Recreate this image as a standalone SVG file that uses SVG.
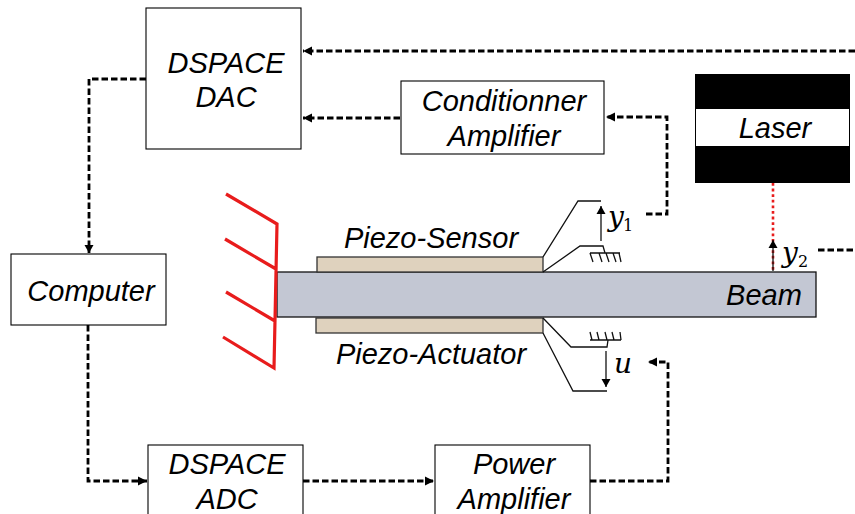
<svg xmlns="http://www.w3.org/2000/svg" width="855" height="514" viewBox="0 0 855 514">
<defs>
<marker id="a" markerUnits="userSpaceOnUse" markerWidth="10" markerHeight="10" refX="9" refY="5" orient="auto"><path d="M0,0.5 L9,5 L0,9.5Z" fill="#000"/></marker>
<marker id="b" markerUnits="userSpaceOnUse" markerWidth="8" markerHeight="10" refX="8" refY="5" orient="auto"><path d="M0,0.5 L8,5 L0,9.5Z" fill="#000"/></marker>
</defs>
<style>
.box{fill:#fff;stroke:#000;stroke-width:1.1}
.t{font-family:"Liberation Sans",Arial,sans-serif;font-style:italic;font-size:29px;fill:#000;text-anchor:middle}
.m{font-family:"DejaVu Serif","Liberation Serif",serif;font-style:italic;font-size:28px;fill:#000}
.s{font-family:"DejaVu Serif","Liberation Serif",serif;font-size:16px;fill:#000}
.c{fill:none;stroke:#000;stroke-width:2.8;stroke-dasharray:6.5 3}
.l{fill:none;stroke:#111;stroke-width:1.3}
.r{fill:none;stroke:#e81c1c;stroke-width:3.2}
.pz{fill:#dfd2be;stroke:#333;stroke-width:1.3}
</style>
<g id="connectors">
<path class="c" d="M855,51 H303" marker-end="url(#a)"/>
<path class="c" d="M146,79 H89 V253" marker-end="url(#b)"/>
<path class="c" d="M400,118 H303" marker-end="url(#a)"/>
<path class="c" d="M646,214 H667 V117 H606" marker-end="url(#a)"/>
<path class="c" d="M88,325 V481 H147" marker-end="url(#a)"/>
<path class="c" d="M303,481 H434" marker-end="url(#a)"/>
<path class="c" d="M590,481 H668 V362 H648" marker-end="url(#a)"/>
<path d="M818,250 H855" fill="none" stroke="#000" stroke-width="2.8" stroke-dasharray="6.5 3"/>
<path d="M773,183 V272" fill="none" stroke="#e81c1c" stroke-width="2.6" stroke-dasharray="2.8 2.8"/>
</g>
<g id="dspace-dac"><rect class="box" x="146" y="8" width="155" height="141"/><text class="t" x="226" y="73">DSPACE</text><text class="t" x="226" y="107">DAC</text></g>
<g id="conditionner"><rect class="box" x="401" y="81" width="203" height="73"/><text class="t" x="504" y="111">Conditionner</text><text class="t" x="504" y="146">Amplifier</text></g>
<g id="laser"><rect x="695" y="74" width="155" height="109" fill="#000"/><rect x="696" y="109" width="153" height="37" fill="#fff"/><text class="t" x="775" y="138">Laser</text></g>
<g id="computer"><rect class="box" x="11" y="254" width="155" height="71"/><text class="t" x="91" y="301">Computer</text></g>
<g id="dspace-adc"><rect class="box" x="148" y="445" width="155" height="75"/><text class="t" x="227" y="474">DSPACE</text><text class="t" x="227" y="509">ADC</text></g>
<g id="power-amplifier"><rect class="box" x="435" y="445" width="155" height="75"/><text class="t" x="514" y="474">Power</text><text class="t" x="514" y="509">Amplifier</text></g>
<g id="beam"><rect x="277" y="272" width="539" height="45" fill="#c3c7d3" stroke="#111" stroke-width="1.3"/><text class="t" x="764" y="305">Beam</text></g>
<g id="piezo-sensor"><rect class="pz" x="317" y="257" width="226" height="15"/><text class="t" x="431" y="248">Piezo-Sensor</text></g>
<g id="piezo-actuator"><rect class="pz" x="316" y="318" width="227" height="15"/><text class="t" x="431" y="364">Piezo-Actuator</text></g>
<g id="clamp">
<path class="r" d="M226,194 L277,224 L274,368 L223,337 M225,239 L276,269 M226,292 L275,321"/>
</g>
<g id="y1-sensor">
<path class="l" d="M543,257 L578,201 H601 M543,272 L580,246 H603 L605,253"/>
<path class="l" d="M590,253 H620 M590,253 L593,262 M599,253 L602,262 M606,253 L609,262 M613,253 L616,262 M619,253 L621,262"/>
<path class="l" d="M601,241 V206" marker-end="url(#b)"/>
<text class="m" x="608" y="226">y</text><text class="s" x="623" y="231">1</text>
</g>
<g id="u-actuator">
<path class="l" d="M543,318 L571,347 H607 L608,340"/>
<path class="l" d="M543,333 L573,391 H607"/>
<path class="l" d="M590,340 H621 M590,332 L592,340 M597,332 L599,340 M605,332 L607,340 M612,332 L614,340 M620,332 L621,340"/>
<path class="l" d="M606,351 V387" marker-end="url(#b)"/>
<text class="m" x="614" y="373">u</text>
</g>
<g id="y2-sensor">
<path class="l" d="M773,271 V240" marker-end="url(#b)"/>
<text class="m" x="782" y="262">y</text><text class="s" x="798" y="267">2</text>
</g>
</svg>
